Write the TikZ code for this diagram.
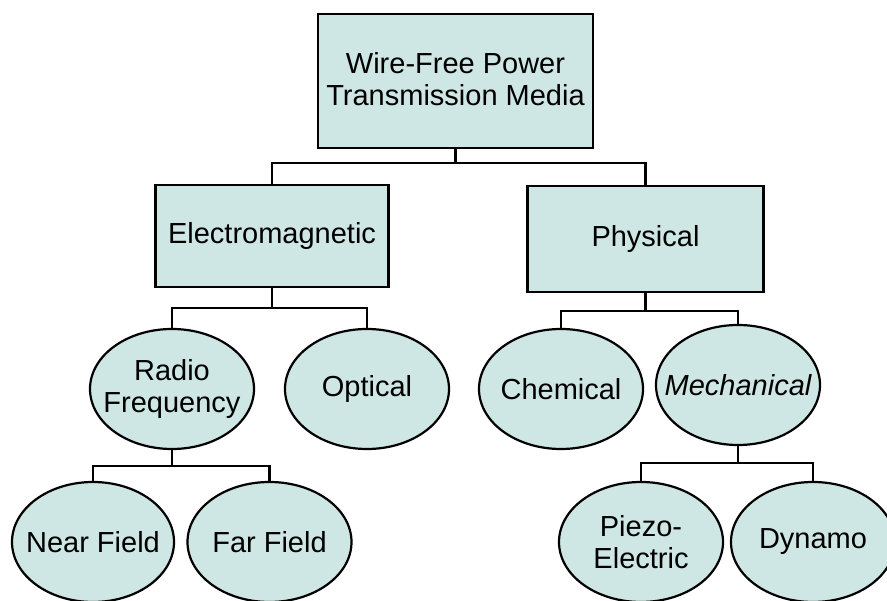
\documentclass[tikz,border=0pt]{standalone}
\usepackage{fontspec}
\setmainfont{Liberation Sans}
\usetikzlibrary{shapes.geometric}
\definecolor{boxfill}{RGB}{207,231,228}
\begin{document}
\begin{tikzpicture}[x=1pt,y=-1pt,
  every node/.style={font=\fontsize{29}{32}\selectfont, align=center, inner sep=0pt},
  rbox/.style={draw, line width=2.2pt, fill=boxfill},
  oval/.style={draw, line width=2.2pt, fill=boxfill, ellipse, minimum width=164pt, minimum height=120pt},
  link/.style={line width=2.2pt}]
\useasboundingbox (0,0) rectangle (887,601);
\clip (0,0) rectangle (887,601);
% nodes
\node[rbox, minimum width=275pt, minimum height=134pt] (top) at (455.5,81) {};
\node (toptext) at (455.5,79) {Wire-Free Power\\Transmission Media};
\node[rbox, minimum width=233pt, minimum height=102pt] (em) at (272,236) {Electromagnetic};
\node[rbox, minimum width=236pt, minimum height=106pt] (ph) at (645.5,239) {Physical};
\node[oval] (rf) at (172,389) {};
\node (rftext) at (172,389) {Radio\\Frequency};
\node[oval] (op) at (367,389) {};
\node (optext) at (367,389) {Optical};
\node[oval] (ch) at (561,389) {};
\node (chtext) at (561,389) {Chemical};
\node[oval] (me) at (738,385) {};
\node (metext) at (738,385) {\itshape Mechanical};
\node[oval, minimum width=162pt] (nf) at (93,542) {};
\node (nftext) at (93,542) {Near Field};
\node[oval] (ff) at (269.5,542) {};
\node (fftext) at (269.5,542) {Far Field};
\node[oval] (pz) at (641,542) {};
\node (pztext) at (641,542) {Piezo-\\Electric};
\node[oval] (dy) at (813,542) {};
\node (dytext) at (813,542) {Dynamo};
% bar junctions
\coordinate (b1) at (455.5,163);
\coordinate (b2) at (272,308);
\coordinate (b3) at (645.5,311);
\coordinate (b4) at (172,466);
\coordinate (b5) at (738,463);
% connectors
\draw[link] (top.south) -- (b1);
\draw[link] (em.north) |- (b1);
\draw[link] (ph.north) |- (b1);
\draw[link] (em.south) -- (b2);
\draw[link] (rf.north) |- (b2);
\draw[link] (op.north) |- (b2);
\draw[link] (ph.south) -- (b3);
\draw[link] (ch.north) |- (b3);
\draw[link] (me.north) |- (b3);
\draw[link] (rf.south) -- (b4);
\draw[link] (nf.north) |- (b4);
\draw[link] (ff.north) |- (b4);
\draw[link] (me.south) -- (b5);
\draw[link] (pz.north) |- (b5);
\draw[link] (dy.north) |- (b5);
\end{tikzpicture}
\end{document}
